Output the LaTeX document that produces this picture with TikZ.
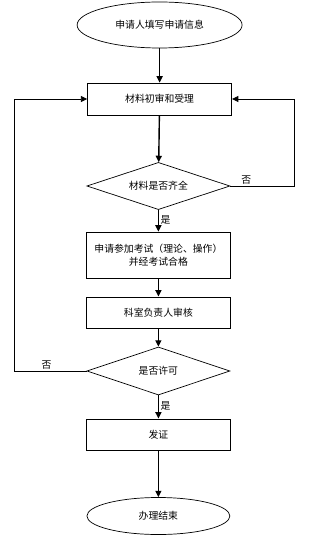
\documentclass[tikz,border=0pt]{standalone}
\usepackage{fontspec}
\usepackage{tikz}
\usetikzlibrary{positioning,arrows.meta,shapes.geometric}
\newfontfamily\cjk{Noto Sans CJK SC}
\tikzset{
  term/.style    ={ellipse, draw=black, line width=0.5pt, font=\cjk\fontsize{7}{8}\selectfont,
                   minimum width=3.575cm, minimum height=0.925cm, inner sep=0pt},
  proc/.style    ={rectangle, draw=black, line width=0.5pt, font=\cjk\fontsize{7}{9.5}\selectfont,
                   align=center, minimum width=3.6cm, minimum height=0.78cm, inner sep=0pt},
  decide/.style  ={diamond, aspect=3, draw=black, line width=0.5pt, font=\cjk\fontsize{7}{8}\selectfont,
                   minimum width=3.575cm, minimum height=1.18cm, inner sep=0pt},
  flowarr/.style ={-{Triangle[length=1.6mm,width=1.5mm]}, line width=1pt},
  looparr/.style ={-{Triangle[length=1.6mm,width=1.5mm]}, line width=0.6pt},
  yesno/.style   ={font=\cjk\fontsize{7}{8}\selectfont, inner sep=1pt},
}
\begin{document}
\begin{tikzpicture}
\useasboundingbox (0,0) rectangle (7.85,-13.375);
\node[term, minimum width=4.125cm, minimum height=1.15cm] (apply) at (3.99,-0.625) {申请人填写申请信息};
\node[proc, minimum height=0.8cm] (review) at (3.99,-2.475) {材料初审和受理};
\node[decide] (full) at (3.96,-4.65) {材料是否齐全};
\node[proc, minimum height=1.15cm] (exam) at (3.96,-6.375) {申请参加考试（理论、操作）\\并经考试合格};
\node[proc] (head) at (3.96,-7.8125) {科室负责人审核};
\node[decide, minimum height=1.2cm] (permit) at (3.96,-9.275) {是否许可};
\node[proc] (issue) at (3.96,-10.8625) {发证};
\node[term] (done) at (3.96,-12.9) {办理结束};

% loop ends
\coordinate (lft) at (0.35,0);
\coordinate (rgt) at (7.35,0);

\draw[flowarr] (apply) -- (review);
\draw[flowarr] (review) -- (full);
\draw[flowarr] (full) -- node[yesno, right, pos=0.45]{是} (exam);
\draw[flowarr] (exam) -- (head);
\draw[flowarr] (head) -- (permit);
\draw[flowarr] (permit) -- node[yesno, right, pos=0.45]{是} (issue);
\draw[flowarr] (issue) -- (done);
\draw[looparr] (full.east) -- node[yesno, above, pos=0.25]{否} (full.east -| rgt) |- (review.east);
\draw[looparr] (permit.west) -- node[yesno, above, pos=0.55]{否} (permit.west -| lft) |- (review.west);
\end{tikzpicture}
\end{document}
